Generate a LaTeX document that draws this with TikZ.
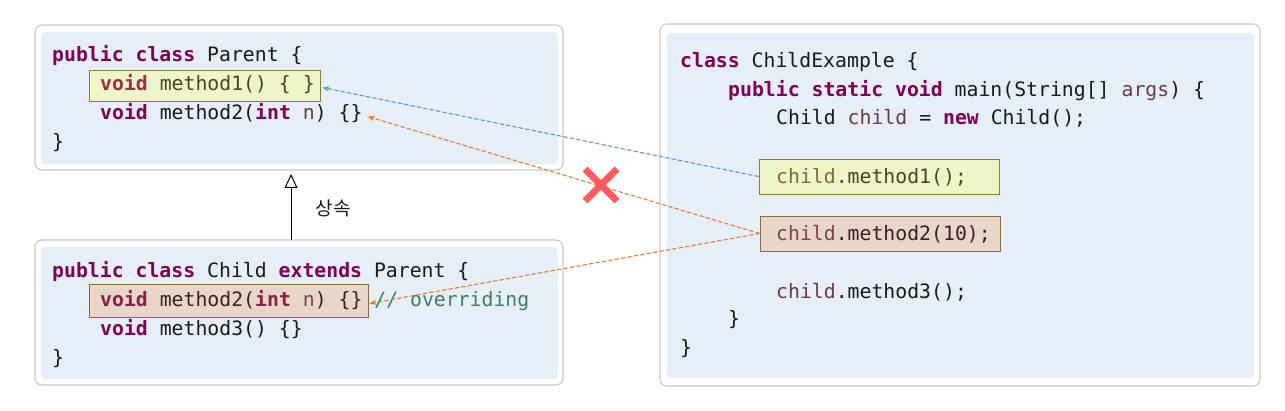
\documentclass[tikz,border=0pt]{standalone}
\usepackage{fontspec}
\usetikzlibrary{arrows.meta}
\newfontfamily\codefont{DejaVu Sans Mono}
\newfontfamily\krfont{Noto Sans CJK KR}
\definecolor{kw}{HTML}{7F0055}
\definecolor{var}{HTML}{6A3E3E}
\definecolor{cmt}{HTML}{3F7F5F}
\definecolor{txt}{HTML}{1A1A1A}
\definecolor{kwy}{HTML}{9A2F45}
\definecolor{txy}{HTML}{4A4520}
\definecolor{vary}{HTML}{7D6B35}
\definecolor{kwp}{HTML}{8B2045}
\definecolor{txp}{HTML}{3A2020}
\definecolor{varp}{HTML}{7A4840}
\definecolor{outerc}{HTML}{C8C8C8}
\definecolor{innerc}{HTML}{E6EEF8}
\definecolor{yfill}{HTML}{EEF5C8}
\definecolor{ydraw}{HTML}{8C7A3C}
\definecolor{pfill}{HTML}{E8D6CA}
\definecolor{pdraw}{HTML}{8C6A3C}
\definecolor{bluel}{HTML}{5B9BD5}
\definecolor{orangel}{HTML}{E07F3A}
\definecolor{redx}{HTML}{FF5C5C}
\newcommand{\kw}[1]{\textbf{\color{kw}#1}}
\begin{document}
\begin{tikzpicture}[x=1pt,y=-1pt,
  outerbox/.style={draw=outerc,line width=1.1pt,rounded corners=7pt,fill=white},
  innerbox/.style={fill=innerc,rounded corners=4pt},
  code/.style={anchor=base west,inner sep=0pt,font=\codefont\fontsize{19.8}{24}\selectfont,text=txt},
  hly/.style={draw=ydraw,fill=yfill,line width=0.9pt,inner sep=0pt},
  hlp/.style={draw=pdraw,fill=pfill,line width=0.9pt,inner sep=0pt},
  link/.style={dashed,dash pattern=on 4pt off 2.5pt,line width=1.1pt,-{Stealth[length=7pt,width=5.5pt]}}
]
\useasboundingbox (0,0) rectangle (1285,411);
% boxes
\draw[outerbox] (35,25) rectangle (563,170);
\fill[innerbox] (41,32) rectangle (558,164);
\draw[outerbox] (35,240) rectangle (563,385);
\fill[innerbox] (41,247) rectangle (558,379);
\draw[outerbox] (660,24) rectangle (1260,386);
\fill[innerbox] (667,33) rectangle (1254,378);
\node (pout) at (299,170) [inner sep=0pt] {};
\node (cout) at (299,240) [inner sep=0pt] {};
% highlight boxes
\node[hly,minimum width=231pt,minimum height=31pt] (pm1) at (204.5,85.5) {};
\node[hlp,minimum width=279pt,minimum height=33pt] (cm2) at (228.5,300.5) {};
\node[hly,minimum width=240pt,minimum height=35pt] (rm1) at (879,176.5) {};
\node[hlp,minimum width=240pt,minimum height=35pt] (rm2) at (880,233.5) {};
% Parent
\node[code] (p1) at (52,62) {\kw{public} \kw{class} Parent \{};
\node[code] (p2) at (100,91) {\textbf{\color{kwy}void} {\color{txy}method1() \{ \}}};
\node[code] (p3) at (100,120) {\kw{void} method2(\kw{int} {\color{var}n}) \{\}};
\node[code] (p4) at (52,149) {\}};
% Child
\node[code] (c1) at (52,278) {\kw{public} \kw{class} Child \kw{extends} Parent \{};
\node[code] (c2) at (100,307) {\textbf{\color{kwp}void} {\color{txp}method2(}\textbf{\color{kwp}int} {\color{varp}n}{\color{txp}) \{\}} {\color{cmt}// overriding}};
\node[code] (c3) at (100,336) {\kw{void} method3() \{\}};
\node[code] (c4) at (52,365) {\}};
% Right
\node[code] (r1) at (680,68) {\kw{class} ChildExample \{};
\node[code] (r2) at (728,97) {\kw{public} \kw{static} \kw{void} main(String[] {\color{var}args}) \{};
\node[code] (r3) at (776,125) {Child {\color{var}child} = \kw{new} Child();};
\node[code] (r4) at (776,184) {{\color{vary}child}{\color{txy}.method1();}};
\node[code] (r5) at (776,241) {{\color{varp}child}{\color{txp}.method2(10);}};
\node[code] (r6) at (776,299) {{\color{var}child}.method3();};
\node[code] (r7) at (728,326) {\}};
\node[code] (r8) at (680,355) {\}};
% connectors
\draw[link,draw=bluel,fill=bluel] (rm1.west) -- ([xshift=2pt,yshift=-2pt]pm1.east);
\draw[link,draw=orangel,fill=orangel] (rm2.west) -- ([xshift=5pt,yshift=-3pt]p3.east);
\draw[link,draw=orangel,fill=orangel] (rm2.west) -- ([xshift=1pt,yshift=-3pt]cm2.east);
% X mark
\node (xm) at (601,185) [inner sep=0pt] {};
\draw[redx,line width=7pt] ([shift={(-16,-16)}]xm.center) -- ([shift={(16,16)}]xm.center);
\draw[redx,line width=7pt] ([shift={(-16,16)}]xm.center) -- ([shift={(16,-16)}]xm.center);
% inheritance
\draw[line width=1pt,-{Triangle[open,length=14pt,width=13pt]}] ([xshift=-8pt]cout.center) -- ([xshift=-8pt,yshift=-4pt]pout.center);
\node[font=\krfont\fontsize{19}{22}\selectfont,text=txt] (inh) at (333,208) {상속};
\end{tikzpicture}
\end{document}
